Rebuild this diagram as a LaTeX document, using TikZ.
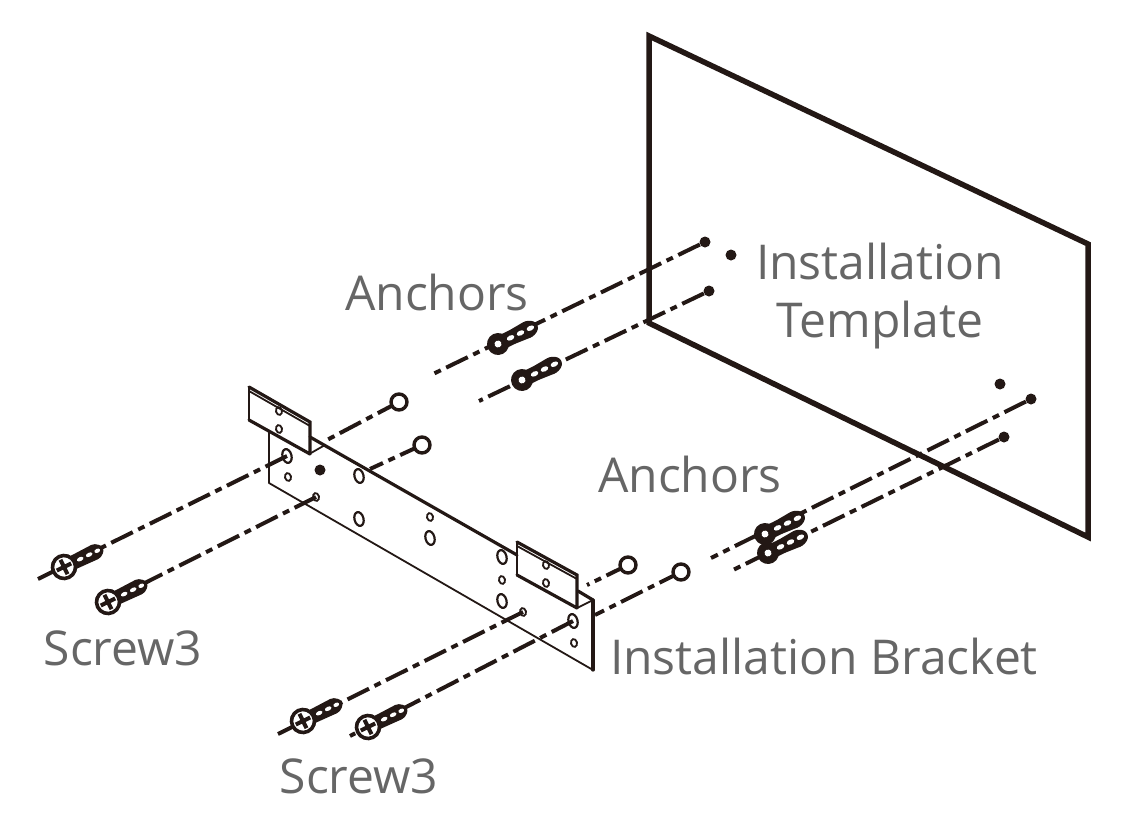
\documentclass[tikz,border=0pt]{standalone}
\usepackage{xcolor}
\usepackage{fontspec}
\setmainfont{Open Sans}
\usepackage{tikz}
\usetikzlibrary{positioning, shapes.geometric}
\definecolor{inkdark}{HTML}{231815}
\definecolor{labelgray}{HTML}{666666}
\tikzset{
    wall/.style={draw=inkdark, line width=5.5pt, line join=miter},
    plate/.style={draw=inkdark, line width=1.8pt, line join=round},
    heavy/.style={draw=inkdark, line width=3.2pt, line cap=round},
    axis/.style={draw=inkdark, line width=4pt, dash pattern=on 24pt off 6pt on 7pt off 6pt},
    washer/.style={circle, draw=inkdark, fill=white, line width=3.4pt, minimum size=16pt, inner sep=0pt},
    spot/.style={circle, fill=inkdark, minimum size=11pt, inner sep=0pt},
    tinyhole/.style={ellipse, draw=inkdark, line width=1.8pt, minimum width=6pt, minimum height=8pt, inner sep=0pt, rotate=15},
    bighole/.style={ellipse, draw=inkdark, line width=2.2pt, minimum width=9pt, minimum height=14pt, inner sep=0pt, rotate=15},
    label/.style={text=labelgray, font=\fontsize{48}{56}\selectfont, align=center, inner sep=0pt}
}
% plastic anchor, head at #1
\newcommand{\plug}[1]{
    \begin{scope}[shift={(#1)}, rotate=26]
        \fill[inkdark, rounded corners=6pt] (0,-8) -- (12,-7) -- (38,-9) -- (46,0) -- (38,9) -- (12,7) -- (0,8) -- cycle;
        \fill[inkdark] (0,0) circle (11);
        \fill[white] (0,0) circle (3.5);
        \fill[white] (14,0) ellipse (4 and 2.4);
        \fill[white] (25,0) ellipse (4 and 2.4);
        \fill[white] (36,0) ellipse (4 and 2.4);
    \end{scope}
}
% screw with cross head, head at #1
\newcommand{\screw}[1]{
    \begin{scope}[shift={(#1)}, rotate=26]
        \fill[inkdark, rounded corners=4pt] (6,-7) -- (38,-8) -- (45,0) -- (38,8) -- (6,7) -- cycle;
        \fill[white] (18,0) ellipse (3.5 and 2);
        \fill[white] (28,0) ellipse (3.5 and 2);
        \fill[white] (37,0) ellipse (3 and 2);
        \draw[inkdark, fill=white, line width=3.6pt] (0,0) circle (11.5);
        \draw[inkdark, line width=4pt] (-8,0) -- (8,0) (0,-8) -- (0,8);
    \end{scope}
}
\begin{document}
\begin{tikzpicture}[x=1pt, y=-1pt]
    \useasboundingbox (0,0) rectangle (1141,817);

    % template on the wall
    \draw[wall] (649,36) -- (1088,244) -- (1088,537) -- (649,323) -- cycle;

    \node (holeA) [spot] at (705,242) {};
    \node (holeB) [spot] at (731,255) {};
    \node (holeC) [spot] at (709,291) {};
    \node (holeD) [spot] at (1000,384) {};
    \node (holeE) [spot] at (1031,399) {};
    \node (holeF) [spot] at (1004,437) {};

    \coordinate (endA) at (431,375);
    \coordinate (endC) at (479,401);
    \coordinate (endE) at (711,558);
    \coordinate (endF) at (733,570);
    \draw[axis] (holeA) -- (endA);
    \draw[axis] (holeC) -- (endC);
    \draw[axis] (holeE) -- (endE);
    \draw[axis] (holeF) -- (endF);
    \plug{498,344}
    \plug{522,380}
    \plug{765,534}
    \plug{768,553}

    % bracket
    \draw[plate] (269,432) -- (269,483) -- (593,670);
    \draw[heavy] (310,437) -- (517,555);
    \draw[heavy] (593,600) -- (593,670);
    \draw[plate] (311,453) -- (325,445);
    \draw[heavy] (578,591) -- (593,600);
    \draw[plate] (577,608) -- (593,600);
    \draw[heavy] (249,387) -- (310,422) -- (310,454) (249,420) -- (310,454);
    \draw[plate] (249,387) -- (249,420) (249,391) -- (310,426);
    \draw[heavy] (517,542) -- (577,575) -- (577,608) (517,575) -- (577,608);
    \draw[plate] (517,542) -- (517,575) (517,546) -- (577,579);

    \node (slotA) [tinyhole] at (279,411) {};
    \node (slotB) [tinyhole] at (279,429) {};
    \node (slotC) [tinyhole] at (546,565) {};
    \node (slotD) [tinyhole] at (546,583) {};
    \node (boreA) [bighole] at (287,456) {};
    \node (slotE) [tinyhole] at (288,477) {};
    \node (spotA) [spot] at (320,470) {};
    \node (slotF) [tinyhole] at (316,497) {};
    \node (boreB) [bighole] at (359,476) {};
    \node (boreC) [bighole] at (359,519) {};
    \node (slotG) [tinyhole] at (430,517) {};
    \node (boreD) [bighole] at (430,538) {};
    \node (boreE) [bighole] at (502,557) {};
    \node (slotH) [tinyhole] at (502,580) {};
    \node (boreF) [bighole] at (502,601) {};
    \node (slotI) [tinyhole] at (523,612) {};
    \node (boreG) [bighole] at (573,621) {};
    \node (slotJ) [tinyhole] at (574,643) {};

    % washers and their short axes
    \coordinate (stopA) at (325,441);
    \coordinate (stopB) at (370,469);
    \coordinate (stopC) at (587,585);
    \coordinate (stopD) at (595,615);
    \draw[axis] (399,402) -- (stopA);
    \draw[axis] (422,445) -- (stopB);
    \draw[axis] (628,565) -- (stopC);
    \draw[axis] (681,572) -- (stopD);
    \node (washerA) [washer] at (399,402) {};
    \node (washerB) [washer] at (422,445) {};
    \node (washerC) [washer] at (628,565) {};
    \node (washerD) [washer] at (681,572) {};

    % screws
    \coordinate (tailA) at (38,579);
    \coordinate (tailB) at (97,607);
    \coordinate (tailC) at (278,734);
    \coordinate (tailD) at (350,736);
    \draw[axis] (boreA.center) -- (tailA);
    \draw[axis] (slotF.center) -- (tailB);
    \draw[axis] (slotI.center) -- (tailC);
    \draw[axis] (boreG.center) -- (tailD);
    \screw{64,567}
    \screw{108,602}
    \screw{303,721}
    \screw{368,727}

    % labels
    \node (anchorsA) [label] at (437,292) {Anchors};
    \node (template) [label] at (880,296) {Installation\\[2pt]Template};
    \node (anchorsB) [label] at (690,474) {Anchors};
    \node (screwA) [label] at (123,648) {Screw3};
    \node (screwB) [label] at (359,776) {Screw3};
    \node (bracket) [label] at (824,656) {Installation Bracket};
\end{tikzpicture}
\end{document}
